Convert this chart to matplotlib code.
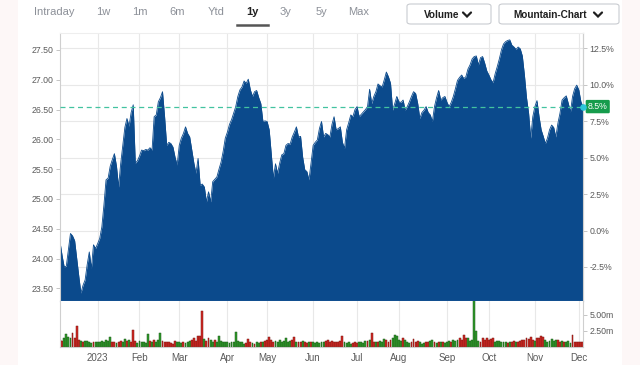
import numpy as np
import pandas as pd
import matplotlib
matplotlib.use("Agg")
import matplotlib.pyplot as plt
from matplotlib.patches import FancyBboxPatch, Rectangle
from matplotlib.lines import Line2D

plt.rcParams['font.family'] = ['Liberation Sans', 'DejaVu Sans']

# ---------------- data ----------------
holidays = ['2022-12-26', '2023-01-02', '2023-01-16', '2023-02-20', '2023-04-07',
            '2023-05-29', '2023-06-19', '2023-07-04', '2023-09-04', '2023-11-23']
dates = pd.bdate_range('2022-12-06', '2023-12-05')
dates = dates[~dates.isin(pd.to_datetime(holidays))]

price = [
    24.28, 24.05, 23.86, 23.87, 24.15, 24.42, 24.38, 24.30, 24.00, 23.70,
    23.42, 23.55, 23.64, 23.90, 24.11, 23.83, 24.23, 24.17, 24.25, 24.34,
    24.53, 24.90, 25.32, 25.35, 25.55, 25.66, 25.76, 25.55, 25.20, 25.59,
    25.90, 26.20, 26.35, 26.22, 26.45, 26.58, 25.60, 25.64, 25.72, 25.82,
    25.81, 25.83, 25.82, 25.86, 25.82, 26.38, 26.41, 26.63, 26.70, 26.80,
    26.38, 25.90, 25.95, 25.93, 25.87, 25.70, 25.57, 25.90, 26.02, 26.10,
    26.21, 26.10, 26.04, 25.82, 25.60, 25.43, 25.68, 25.23, 25.25, 25.20,
    24.95, 25.12, 24.95, 25.29, 25.33, 25.37, 25.50, 25.62, 25.80, 26.02,
    26.12, 26.25, 26.33, 26.44, 26.55, 26.72, 26.83, 26.88, 26.98, 26.94,
    27.01, 26.83, 26.72, 26.80, 26.82, 26.70, 26.60, 26.30, 26.31, 26.30,
    26.16, 25.75, 25.35, 25.59, 25.43, 25.60, 25.74, 25.76, 25.90, 25.93,
    25.92, 26.04, 26.12, 26.21, 26.04, 26.05, 25.70, 25.49, 25.46, 25.32,
    25.60, 25.90, 25.95, 25.99, 26.18, 26.30, 26.04, 26.10, 26.08, 26.04,
    26.25, 26.38, 26.16, 26.18, 26.21, 25.95, 25.85, 26.16, 26.28, 26.41,
    26.38, 26.50, 26.55, 26.38, 26.42, 26.46, 26.50, 26.55, 26.84, 26.60,
    26.72, 26.80, 26.93, 26.90, 26.88, 27.00, 27.13, 27.05, 26.94, 26.49,
    26.60, 26.72, 26.63, 26.62, 26.66, 26.49, 26.55, 26.63, 26.72, 26.80,
    26.77, 26.60, 26.35, 26.45, 26.49, 26.55, 26.45, 26.41, 26.30, 26.55,
    26.70, 26.82, 26.66, 26.70, 26.72, 26.62, 26.55, 26.62, 26.72, 26.85,
    26.99, 27.04, 27.08, 27.02, 27.05, 27.18, 27.25, 27.35, 27.39, 27.40,
    27.25, 27.37, 27.39, 27.28, 27.15, 27.08, 27.00, 26.95, 27.10, 27.22,
    27.35, 27.50, 27.60, 27.64, 27.66, 27.67, 27.58, 27.55, 27.51, 27.55,
    27.52, 27.40, 27.08, 26.70, 26.44, 26.02, 26.38, 26.55, 26.65, 26.38,
    26.16, 26.05, 25.93, 26.02, 26.16, 26.24, 26.20, 26.04, 26.27, 26.44,
    26.66, 26.70, 26.73, 26.60, 26.46, 26.72, 26.85, 26.91, 26.83, 26.63,
    26.55,
]

volume_m = [
    1.0, 0.9, 1.3, 2.0, 1.6, 1.3, 2.2, 1.4, 3.3, 1.0,
    0.9, 0.8, 0.9, 0.9, 0.8, 0.6, 0.7, 0.8, 0.7, 0.8,
    0.9, 0.8, 1.0, 0.9, 1.5, 0.8, 0.7, 0.6, 0.8, 0.9,
    0.8, 1.2, 0.9, 1.0, 0.8, 2.6, 0.9, 0.6, 0.9, 0.8,
    0.7, 0.6, 2.0, 0.9, 0.7, 1.1, 0.8, 1.0, 2.1, 0.9,
    0.8, 0.7, 0.8, 0.6, 0.5, 0.9, 0.8, 0.7, 0.6, 0.7,
    0.6, 0.8, 0.9, 1.1, 1.4, 0.9, 1.7, 1.7, 5.7, 1.2,
    0.9, 1.3, 1.1, 0.8, 1.0, 0.8, 1.7, 0.9, 0.8, 0.7,
    0.8, 0.6, 0.7, 0.8, 2.3, 0.9, 0.8, 0.7, 0.5, 0.6,
    1.2, 0.8, 0.6, 0.5, 0.7, 0.6, 0.8, 0.7, 0.9, 1.0,
    1.5, 1.1, 0.8, 0.9, 0.7, 1.1, 0.8, 0.9, 1.3, 0.8,
    0.9, 1.1, 1.5, 0.8, 0.7, 0.8, 0.9, 0.8, 0.6, 0.8,
    0.7, 0.7, 0.6, 0.7, 0.6, 0.7, 0.8, 0.9, 1.1, 0.8,
    0.9, 0.8, 0.7, 0.8, 0.9, 1.7, 0.8, 0.6, 0.7, 0.5,
    0.6, 0.7, 0.6, 0.8, 0.7, 0.6, 0.9, 0.9, 1.0, 2.1,
    0.8, 0.7, 0.8, 0.9, 0.7, 1.2, 1.0, 0.8, 1.1, 1.4,
    1.9, 1.7, 1.0, 0.9, 1.3, 1.0, 0.8, 0.6, 0.7, 1.2,
    0.8, 0.9, 0.7, 0.5, 0.6, 0.7, 0.8, 0.9, 1.1, 0.7,
    0.6, 0.7, 0.8, 0.7, 0.6, 0.8, 0.9, 0.7, 1.0, 0.9,
    1.1, 1.3, 1.0, 1.9, 1.3, 1.4, 0.9, 1.0, 7.6, 2.4,
    0.9, 0.8, 1.3, 1.1, 1.4, 1.0, 1.2, 1.3, 0.8, 0.9,
    0.9, 0.8, 0.7, 0.8, 0.6, 0.7, 0.8, 0.9, 0.7, 0.8,
    0.9, 1.0, 1.1, 1.3, 1.2, 1.5, 1.0, 0.9, 1.3, 1.4,
    1.7, 1.5, 1.0, 0.8, 0.9, 1.2, 0.9, 1.1, 1.0, 0.8,
    0.9, 0.7, 0.8, 0.9, 0.6, 1.9, 0.8, 0.7, 0.8, 0.7,
    0.8,
]

# bar direction: u = green (up), d = red (down)
volume_dir = (
    "ddggggdddd" "gdggggdggg" "gggggddgdd" "ggdgdddggg" "gggdgdgggd"
    "ddddddgggd" "gggddddddg" "ddggdggggg" "gggggggggd" "ddgdggdgdd"
    "dddggggggg" "gddgddgddg" "dggggggddd" "ddddddgggg" "dddggggdgd"
    "dgdgggdddg" "ggggdgggdd" "ddgggddggd" "gdgdgggdgg" "gddddggggg"
    "gdddddddgg" "ggggdgddgd" "dddddddgdd" "ddggggggd" "dgdgggddddd"
).replace('g', 'u')

left_ticks = [23.50, 24.00, 24.50, 25.00, 25.50, 26.00, 26.50, 27.00, 27.50]
pct_ticks = [-2.5, 0.0, 2.5, 5.0, 7.5, 10.0, 12.5]
vol_ticks = [2.5, 5.0]
base_price = 24.47
tabs = ['Intraday', '1w', '1m', '6m', 'Ytd', '1y', '3y', '5y', 'Max']
tab_x = [54, 103, 140, 177, 216, 252, 286, 321, 359]

# ---------------- figure ----------------
W, H = 640, 365
fig = plt.figure(figsize=(W / 100, H / 100), dpi=100)
fig.patch.set_facecolor('white')

def fx(px):
    return px / W

def fy(py):
    return 1 - py / H

fig.patches.append(Rectangle((0, 0), fx(18), 1, transform=fig.transFigure,
                             fc='#fdf7f7', ec='none', zorder=-5))
fig.patches.append(Rectangle((fx(622), 0), fx(18), 1, transform=fig.transFigure,
                             fc='#fdf7f7', ec='none', zorder=-5))

x = np.arange(len(dates))
price_arr = np.array(price)
vol_arr = np.array(volume_m)

L, R = 60, 583
ax = fig.add_axes([fx(L), fy(301), fx(R - L), (301 - 33) / H])
axv = fig.add_axes([fx(L), fy(347), fx(R - L), (347 - 301) / H], sharex=ax)

grid_c = '#e8e8e8'
spine_c = '#cfcfcf'
txt_c = '#5a5a5a'

month_idx, month_lab = [], []
for i in range(1, len(dates)):
    if dates[i].month != dates[i - 1].month:
        month_idx.append(i)
        month_lab.append(str(dates[i].year) if dates[i].month == 1 else dates[i].strftime('%b'))

ymin, ymax = 23.287, 27.785
ax.set_ylim(ymin, ymax)
ax.set_xlim(0, len(dates) - 1)

for p in pct_ticks:
    ax.axhline(base_price * (1 + p / 100), color=grid_c, lw=0.8, zorder=0)
for mi in month_idx:
    ax.axvline(mi, color=grid_c, lw=0.8, zorder=0)
    axv.axvline(mi, color=grid_c, lw=0.8, zorder=0)

ax.fill_between(x, ymin, price_arr, color='#0b4a8c', lw=0, zorder=2)
ax.plot(x, price_arr, color='#0b4a8c', lw=0.6, zorder=2)

last = price[-1]
ax.axhline(last, color='#43c3a0', lw=0.9, ls=(0, (4, 3)), zorder=3)

ax.set_yticks(left_ticks)
ax.set_yticklabels([f'{v:.2f}' for v in left_ticks])
ax.tick_params(axis='y', labelsize=6.3, colors=txt_c, length=3, width=0.6,
               pad=1.5, color='#bbbbbb')
ax.tick_params(axis='x', length=0, labelbottom=False)
for s in ['left', 'right', 'top']:
    ax.spines[s].set_color(spine_c)
    ax.spines[s].set_linewidth(0.8)
ax.spines['top'].set_color('#eeeeee')
ax.spines['bottom'].set_color('#8fb0d8')
ax.spines['bottom'].set_linewidth(0.8)

sec = ax.secondary_yaxis('right', functions=(lambda p: (p / base_price - 1) * 100,
                                             lambda q: base_price * (1 + q / 100)))
sec.set_yticks(pct_ticks)
sec.set_yticklabels([f'{v:.1f}%' for v in pct_ticks])
sec.tick_params(labelsize=6.3, colors=txt_c, length=3, width=0.6, pad=1.5, color='#bbbbbb')
sec.spines['right'].set_color(spine_c)

pct_last = (last / base_price - 1) * 100
ax.annotate(f'{pct_last:.1f}%', xy=(1.0, last), xycoords=('axes fraction', 'data'),
            xytext=(3.5, 0), textcoords='offset points', ha='left', va='center',
            fontsize=6.3, color='white', annotation_clip=False, zorder=6,
            bbox=dict(boxstyle='round,pad=0.25,rounding_size=0.15', fc='#169c4c',
                      ec='none'))
ax.scatter([len(dates) - 1], [last], s=14, color='#2cc6d9', zorder=7, clip_on=False)

# volume
colors = ['#2f9a2a' if d == 'u' else '#d22a24' for d in volume_dir]
edges = ['#1e5a1a' if d == 'u' else '#7a1512' for d in volume_dir]
axv.bar(x, vol_arr, width=0.9, color=colors, edgecolor=edges, linewidth=0.35, zorder=2)
axv.set_ylim(-0.05, 7.2)
axv.yaxis.tick_right()
axv.set_yticks(vol_ticks)
axv.set_yticklabels([f'{v:.2f}m' for v in vol_ticks])
axv.tick_params(axis='y', labelsize=6.3, colors=txt_c, length=3, width=0.6, pad=1.5,
                color='#bbbbbb')
axv.set_xticks(month_idx)
axv.set_xticklabels(month_lab)
axv.tick_params(axis='x', labelsize=7, colors=txt_c, length=0, pad=4)
for s in ['left', 'right', 'bottom']:
    axv.spines[s].set_color(spine_c)
    axv.spines[s].set_linewidth(0.8)
axv.spines['top'].set_visible(False)

# ---------------- header ----------------
for t, tx in zip(tabs, tab_x):
    sel = (t == '1y')
    fig.text(fx(tx), fy(12), t, ha='center', va='center', fontsize=8,
             color='#222222' if sel else '#8c9098', fontweight='bold' if sel else 'normal')
fig.add_artist(Line2D([fx(237), fx(268)], [fy(24.5), fy(24.5)], color='#555555', lw=1.8,
                      transform=fig.transFigure))

def button(x0, x1, label, tx, chev_x):
    fig.patches.append(FancyBboxPatch((fx(x0), fy(24)), fx(x1 - x0), (24 - 4) / H,
                                      boxstyle='round,pad=0,rounding_size=0.006',
                                      transform=fig.transFigure, fc='white',
                                      ec='#c9ccd1', lw=0.8))
    fig.text(fx(tx), fy(14.5), label, ha='left', va='center', fontsize=7.2,
             fontweight='bold', color='#1f1f1f')
    fig.add_artist(Line2D([fx(chev_x - 4), fx(chev_x), fx(chev_x + 4)],
                          [fy(12.5), fy(16.5), fy(12.5)], color='#1f1f1f', lw=1.6,
                          transform=fig.transFigure, solid_capstyle='round',
                          solid_joinstyle='miter'))

button(407, 491, 'Volume', 424, 467)
button(499, 619, 'Mountain-Chart', 513, 598)

fig.savefig('out.png', dpi=100, facecolor='white')
